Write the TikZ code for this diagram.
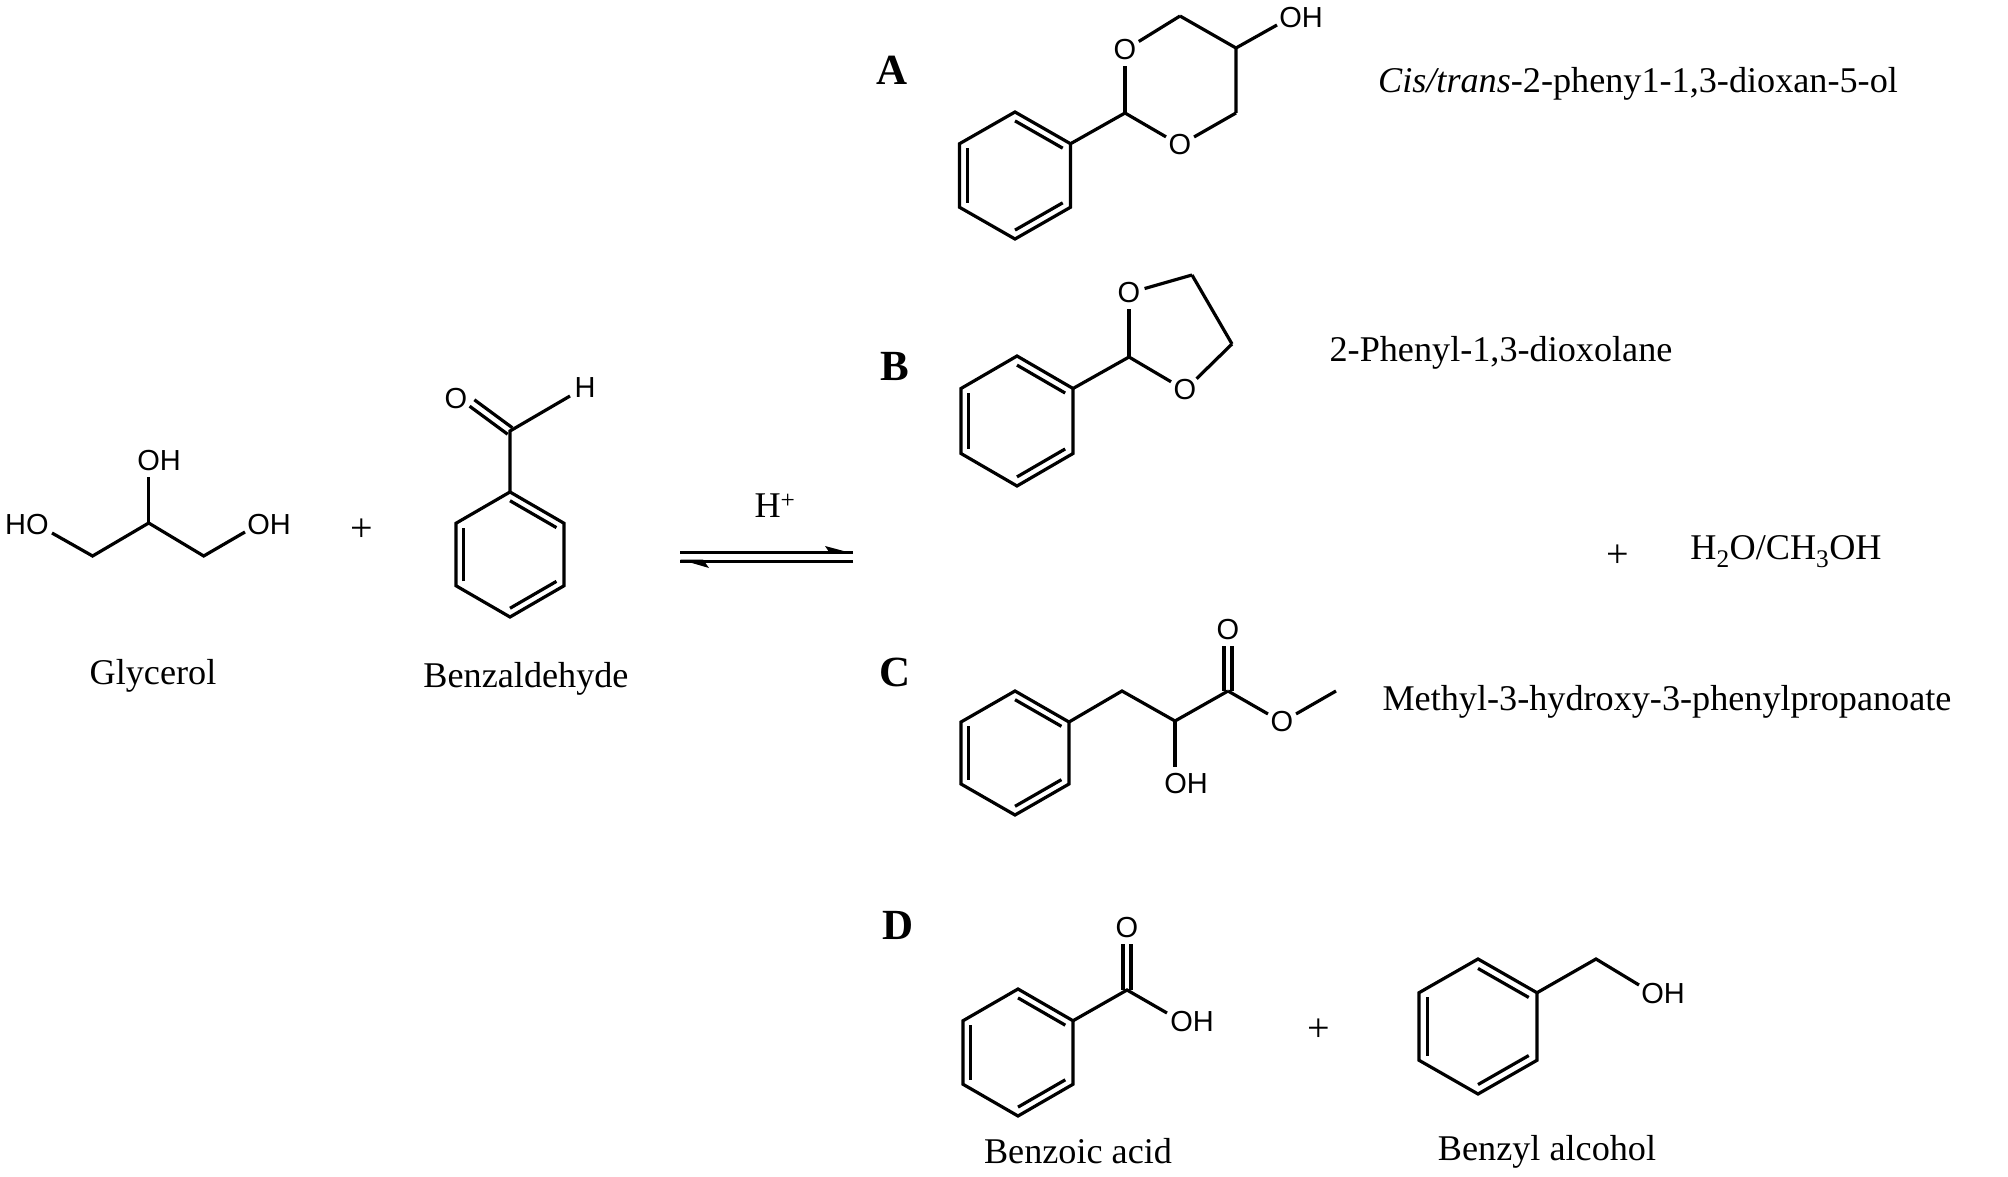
\documentclass[tikz,border=0pt]{standalone}
\usepackage{fontspec}
\setmainfont{Liberation Serif}
\newfontfamily\atomfont{Liberation Sans}
\usetikzlibrary{calc}
\newcommand{\benz}[5]{%
  \coordinate (#1t) at (#2,#3-#5);
  \coordinate (#1ur) at (#2+#4,#3-#5/2);
  \coordinate (#1lr) at (#2+#4,#3+#5/2);
  \coordinate (#1b) at (#2,#3+#5);
  \coordinate (#1ll) at (#2-#4,#3+#5/2);
  \coordinate (#1ul) at (#2-#4,#3-#5/2);
  \coordinate (#1c) at (#2,#3);
  \draw[bond] (#1t) -- (#1ur) -- (#1lr) -- (#1b) -- (#1ll) -- (#1ul) -- cycle;
  \draw[bond] ($(#1t)!0.14!(#1c)$) -- ($(#1ur)!0.14!(#1c)$);
  \draw[bond] ($(#1lr)!0.14!(#1c)$) -- ($(#1b)!0.14!(#1c)$);
  \draw[bond] ($(#1ll)!0.14!(#1c)$) -- ($(#1ul)!0.14!(#1c)$);
}
\newcommand{\dbl}[2]{%
  \draw[bond] ($(#1)!4pt!90:(#2)$) -- ($(#2)!4pt!-90:(#1)$);
  \draw[bond] ($(#1)!4pt!-90:(#2)$) -- ($(#2)!4pt!90:(#1)$);
}
\tikzset{
  bond/.style={line width=3.2pt,line join=miter,line cap=butt},
  atom/.style={font=\atomfont\fontsize{29}{29}\selectfont,inner sep=0pt},
  oatom/.style={atom,circle,minimum size=32pt},
  txt/.style={font=\fontsize{36.2}{36.2}\selectfont,inner sep=0pt},
  plussign/.style={font=\fontsize{40}{40}\selectfont,inner sep=0pt},
  letter/.style={font=\fontsize{43}{43}\selectfont\bfseries,inner sep=0pt},
  eqline/.style={line width=3pt},
  halfhead/.style={fill=black,draw=none}
}
\begin{document}
\begin{tikzpicture}[x=1pt,y=-1pt]
\useasboundingbox (0,0) rectangle (2008,1177);
% Glycerol
\coordinate (g1) at (52,533);
\coordinate (g2) at (92.6,556);
\coordinate (g3) at (148.7,523);
\coordinate (g4) at (203.7,556);
\coordinate (g5) at (245,532);
\coordinate (g6) at (148.7,477);
\node[atom] (gho) at (27,525) {HO};
\node[atom] (gohr) at (269,525) {OH};
\node[atom] (goht) at (159,461) {OH};
\draw[bond] (g1) -- (g2) -- (g3) -- (g4) -- (g5);
\draw[bond] (g3) -- (g6);
\node[plussign] (plus1) at (362,530) {+};
\node[txt] (lglycerol) at (153,676) {Glycerol};
% Benzaldehyde
\benz{ba}{510}{554.5}{54}{62.5}
\coordinate (bac) at (510,431);
\coordinate (bah) at (570,396);
\coordinate (bao) at (472,403);
\node[atom] (baH) at (585,388) {H};
\node[atom] (baO) at (456,399) {O};
\draw[bond] (bat) -- (bac) -- (bah);
\dbl{bac}{bao}
\node[txt] (lbenzald) at (526,679) {Benzaldehyde};
% Arrow
\node[txt] (hplus) at (775,506) {H\textsuperscript{+}};
\coordinate (ar1) at (680,552);
\coordinate (ar2) at (853,552);
\coordinate (ar3) at (853,561);
\coordinate (ar4) at (680,561);
\draw[eqline] (ar1) -- (ar2);
\draw[eqline] (ar3) -- (ar4);
\fill[halfhead] (853,553.5) -- (825,546) -- (830,553.5) -- cycle;
\fill[halfhead] (680,559.5) -- (709,568) -- (703,559.5) -- cycle;
% A
\node[letter] (la) at (892,70) {A};
\benz{aa}{1015}{175.5}{55.5}{63.5}
\coordinate (ac) at (1125,113);
\coordinate (ac2) at (1180,16);
\coordinate (ac3) at (1236,48);
\coordinate (ac4) at (1236,113);
\coordinate (aoh) at (1277,25);
\node[oatom] (ao1) at (1125,50) {O};
\node[oatom] (ao2) at (1180,145) {O};
\node[atom] (aOH) at (1301,18) {OH};
\draw[bond] (aaur) -- (ac);
\draw[bond] (ac) -- (ao1);
\draw[bond] (ao1) -- (ac2);
\draw[bond] (ac2) -- (ac3) -- (ac4);
\draw[bond] (ac4) -- (ao2);
\draw[bond] (ao2) -- (ac);
\draw[bond] (ac3) -- (aoh);
\node[txt] (na) at (1638,84) {\textit{Cis/trans}-2-pheny1-1,3-dioxan-5-ol};
% B
\node[letter] (lb) at (895,366) {B};
\benz{bb}{1017}{421}{56}{65}
\coordinate (bc) at (1129,357);
\coordinate (bc2) at (1192,275);
\coordinate (bc3) at (1232,344);
\node[oatom] (bo1) at (1129,293) {O};
\node[oatom] (bo2) at (1185,390) {O};
\draw[bond] (bbur) -- (bc);
\draw[bond] (bc) -- (bo1);
\draw[bond] (bo1) -- (bc2);
\draw[bond] (bc2) -- (bc3);
\draw[bond] (bc3) -- (bo2);
\draw[bond] (bo2) -- (bc);
\node[txt] (nb) at (1501,353) {2-Phenyl-1,3-dioxolane};
% Middle
\node[plussign] (plus2) at (1618,556) {+};
\node[txt] (water) at (1786,552) {H\textsubscript{2}O/CH\textsubscript{3}OH};
% C
\node[letter] (lc) at (895,672) {C};
\benz{cc}{1015}{753}{54}{62}
\coordinate (cc1) at (1122,691);
\coordinate (cc2) at (1175,721);
\coordinate (cc3) at (1228,691);
\coordinate (cc4) at (1336,691);
\coordinate (coe) at (1228,646);
\coordinate (cohe) at (1175,767);
\node[oatom] (cO) at (1228,630) {O};
\node[oatom] (cO2) at (1282,722) {O};
\node[atom] (cOH) at (1186,784) {OH};
\draw[bond] (ccur) -- (cc1) -- (cc2) -- (cc3);
\draw[bond] (cc2) -- (cohe);
\dbl{cc3}{coe}
\draw[bond] (cc3) -- (cO2);
\draw[bond] (cO2) -- (cc4);
\node[txt] (nc) at (1667,702) {Methyl-3-hydroxy-3-phenylpropanoate};
% D
\node[letter] (ld) at (898,925) {D};
\benz{dd}{1018}{1052.5}{55}{63.5}
\coordinate (dc) at (1127,990);
\coordinate (doe) at (1127,944);
\coordinate (dohe) at (1167,1013);
\node[oatom] (dO) at (1127,928) {O};
\node[atom] (dOH) at (1192,1022) {OH};
\draw[bond] (ddur) -- (dc) -- (dohe);
\dbl{dc}{doe}
\node[txt] (lba) at (1078,1151) {Benzoic acid};
\node[plussign] (plus3) at (1319,1030) {+};
\benz{ee}{1478}{1026.5}{59}{67.5}
\coordinate (ec) at (1596,959);
\coordinate (eohe) at (1639,985);
\node[atom] (eOH) at (1663,994) {OH};
\draw[bond] (eeur) -- (ec) -- (eohe);
\node[txt] (lbz) at (1547,1152) {Benzyl alcohol};
\end{tikzpicture}
\end{document}
